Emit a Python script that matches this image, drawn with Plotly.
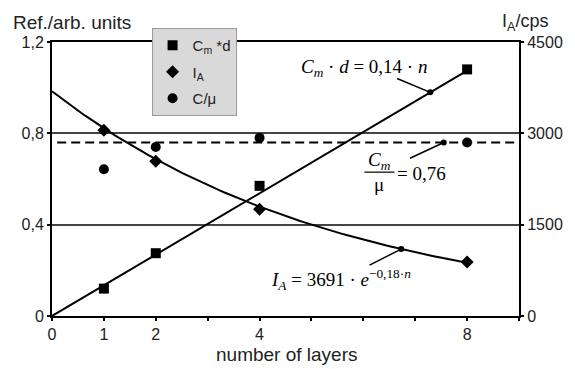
import numpy as np
import plotly.graph_objects as go

# ---- data ----
layers = [1, 2, 4, 8]
cm_d = [0.12, 0.275, 0.57, 1.08]          # left axis (Ref./arb. units)
i_a = [3050, 2540, 1755, 885]             # right axis (cps)
c_mu = [0.643, 0.74, 0.78, 0.76]          # left axis

cm_fit_x = [0, 8]
cm_fit_y = [0, 1.075]
ia_fit_a = 3691
ia_fit_k = 0.18
cmu_mean = 0.76

x_tickvals = [0, 1, 2, 3, 4, 5, 6, 7, 8, 9]
x_ticktext = ["0", "1", "2", "", "4", "", "", "", "8", ""]
yl_tickvals = [0, 0.4, 0.8, 1.2]
yl_ticktext = ["0", "0,4", "0,8", "1,2"]
yr_tickvals = [0, 1500, 3000, 4500]
yr_ticktext = ["0", "1500", "3000", "4500"]

# pointer anchor points for the formula labels
cm_ptr_n = 7.29
ia_ptr_n = 6.73
cmu_ptr_n = 7.55

SANS = "Liberation Sans, Arial, sans-serif"
SERIF = "Liberation Serif, Times New Roman, serif"

# page has an 8px body margin: design in page pixels, figure is 8px smaller
OFF = 8
W, H = 575 - OFF, 369 - OFF
L, T = 52 - OFF, 42 - OFF
pw, ph = 469, 274
R = W - L - pw
B = H - T - ph


def px(xp):
    return (xp - OFF - L) / pw


def py(yp):
    return (H - B - (yp - OFF)) / ph


fig = go.Figure()

# fitted curves
fig.add_trace(go.Scatter(x=cm_fit_x, y=cm_fit_y, mode="lines",
                         line=dict(color="black", width=2), showlegend=False,
                         hoverinfo="skip"))
n_fine = np.linspace(0, 8, 100)
fig.add_trace(go.Scatter(x=n_fine, y=ia_fit_a * np.exp(-ia_fit_k * n_fine), mode="lines",
                         line=dict(color="black", width=2), showlegend=False,
                         yaxis="y2", hoverinfo="skip"))
fig.add_trace(go.Scatter(x=[0.1, 9], y=[cmu_mean, cmu_mean], mode="lines",
                         line=dict(color="black", width=2, dash="9px,5px"),
                         showlegend=False, hoverinfo="skip"))

# data markers
fig.add_trace(go.Scatter(x=layers, y=cm_d, mode="markers", name="C<sub>m</sub> *d",
                         marker=dict(symbol="square", size=10, color="black"),
                         legendgroup="a"))
fig.add_trace(go.Scatter(x=layers, y=i_a, mode="markers", name="I<sub>A</sub>",
                         marker=dict(symbol="diamond", size=10, color="black"),
                         yaxis="y2", legendgroup="b"))
fig.add_trace(go.Scatter(x=layers, y=c_mu, mode="markers", name="C/μ",
                         marker=dict(symbol="circle", size=10, color="black"),
                         legendgroup="c"))

# pointer dots
fig.add_trace(go.Scatter(x=[cm_ptr_n, cmu_ptr_n],
                         y=[cm_ptr_n * cm_fit_y[1] / cm_fit_x[1], cmu_mean],
                         mode="markers", marker=dict(size=6, color="black"),
                         showlegend=False, hoverinfo="skip"))
fig.add_trace(go.Scatter(x=[ia_ptr_n], y=[ia_fit_a * np.exp(-ia_fit_k * ia_ptr_n)],
                         mode="markers", marker=dict(size=6, color="black"),
                         showlegend=False, hoverinfo="skip", yaxis="y2"))

shapes = [
    dict(type="line", xref="x", yref="y", x0=6.65, y0=1.040, x1=cm_ptr_n,
         y1=cm_ptr_n * cm_fit_y[1] / cm_fit_x[1], line=dict(color="black", width=1.5)),
    dict(type="line", xref="x", yref="y", x0=6.90, y0=0.691, x1=cmu_ptr_n,
         y1=cmu_mean, line=dict(color="black", width=1.5)),
    dict(type="line", xref="x", yref="y", x0=6.12, y0=0.223, x1=ia_ptr_n,
         y1=ia_fit_a * np.exp(-ia_fit_k * ia_ptr_n) / 3750, line=dict(color="black", width=1.5)),
    dict(type="line", xref="x", yref="y", x0=6.02, y0=0.630, x1=6.60, y1=0.630,
         line=dict(color="black", width=1.2)),
]

ann_font = dict(family=SERIF, size=19, color="black")
title_font = dict(family=SANS, size=19, color="#222")
annotations = [
    dict(x=6.02, y=1.086, xref="x", yref="y", showarrow=False, font=ann_font,
         text="<i>C<sub>m</sub></i> · <i>d</i> = 0,14 · <i>n</i>"),
    dict(x=6.31, y=0.678, xref="x", yref="y", showarrow=False, font=ann_font,
         text="<i>C<sub>m</sub></i>"),
    dict(x=6.31, y=0.575, xref="x", yref="y", showarrow=False, font=ann_font,
         text="μ"),
    dict(x=7.12, y=0.625, xref="x", yref="y", showarrow=False, font=ann_font,
         text="= 0,76"),
    dict(x=5.56, y=0.16, xref="x", yref="y", showarrow=False, font=ann_font,
         text="<i>I<sub>A</sub></i> = 3691 · <i>e</i><sup>−0,18·<i>n</i></sup>"),
    dict(x=px(11), y=py(22), xref="paper", yref="paper", xanchor="left", yanchor="middle",
         showarrow=False, text="Ref./arb. units", font=title_font),
    dict(x=px(502), y=py(22), xref="paper", yref="paper", xanchor="left", yanchor="middle",
         showarrow=False, text="I<sub>A</sub>/cps", font=dict(family=SANS, size=18, color="#222")),
    dict(x=px(288), y=py(354), xref="paper", yref="paper", xanchor="center", yanchor="middle",
         showarrow=False, text="number of layers", font=title_font),
]

axis_common = dict(showline=True, linecolor="black", linewidth=2, ticks="outside",
                   ticklen=3, tickwidth=1.5, tickcolor="black",
                   tickfont=dict(family=SANS, size=16, color="#222"), zeroline=False)

fig.update_layout(
    width=W, height=H,
    margin=dict(l=L, r=R, t=T, b=B, pad=0),
    plot_bgcolor="white", paper_bgcolor="white",
    xaxis=dict(range=[0, 9], tickmode="array", tickvals=x_tickvals, ticktext=x_ticktext,
               showgrid=False, mirror=True, **axis_common),
    yaxis=dict(range=[0, 1.2], tickmode="array", tickvals=yl_tickvals, ticktext=yl_ticktext,
               showgrid=True, gridcolor="#444", gridwidth=1.5, **axis_common),
    yaxis2=dict(range=[0, 4500], tickmode="array", tickvals=yr_tickvals, ticktext=yr_ticktext,
                overlaying="y", side="right", showgrid=False, **axis_common),
    legend=dict(x=px(152), y=py(28), xanchor="left", yanchor="top",
                bgcolor="#d9d9d9", bordercolor="#999", borderwidth=1,
                font=dict(family=SANS, size=15, color="#222"),
                traceorder="grouped", tracegroupgap=4),
    shapes=shapes, annotations=annotations, showlegend=True,
)

fig.write_html("out.html")
